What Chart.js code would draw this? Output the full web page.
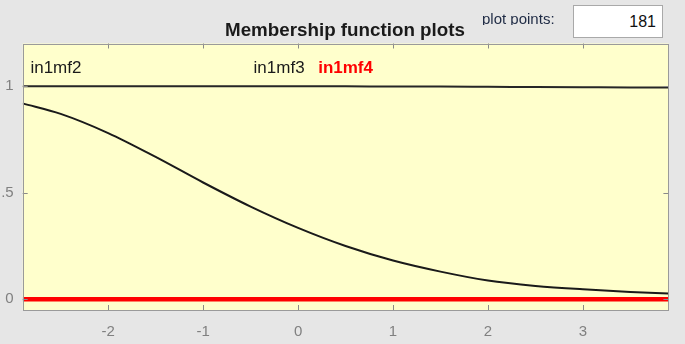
<!DOCTYPE html>
<html><head><meta charset="utf-8">
<script src="https://cdn.jsdelivr.net/npm/chart.js@4.4.1/dist/chart.umd.min.js"></script>
<style>
html,body{margin:0;padding:0;background:#e6e6e6;width:685px;height:344px;overflow:hidden;font-family:"Liberation Sans",Arial,sans-serif}
#wrap{position:relative;width:685px;height:344px}
#c{position:absolute;left:0;top:0}
#title{position:absolute;left:0;top:19px;width:690px;text-align:center;font-size:18.8px;line-height:22px;font-weight:bold;color:#1a1a1a;white-space:nowrap}
#pp{position:absolute;left:482px;top:9px;height:16px;overflow:hidden;font-size:15px;line-height:19px;color:#1e2a44;white-space:nowrap}
#box{position:absolute;left:573px;top:5px;width:90px;height:33px;box-sizing:border-box;background:#fff;border:1px solid #a9a9a9;font-size:16px;line-height:31px;text-align:right;padding-right:6px;color:#111}
</style></head><body>
<div id="wrap">
<canvas id="c" width="685" height="344"></canvas>
<div id="title">Membership function plots</div>
<div id="pp">plot points:</div>
<div id="box">181</div>
</div>
<script>
// ---- data ----
const xs = [-2.9,-2.5,-2,-1.5,-1,-0.5,0,0.5,1,1.5,2,2.5,3,3.5,3.9];
const mfCurve = [0.919,0.87,0.78,0.668,0.548,0.435,0.335,0.25,0.182,0.13,0.088,0.063,0.047,0.035,0.027];
const mfTop = [1,1,1,1,1,1,0.999,0.999,0.998,0.998,0.997,0.996,0.995,0.994,0.994];
const mfZero = [0,0,0,0,0,0,0,0,0,0,0,0,0,0,0];
const xTicks = [-2,-1,0,1,2,3];
const yTicks = [0,0.5,1];
const yTickLabels = ['0','.5','1'];
const mfLabels = ['in1mf2','in1mf3','in1mf4'];
const mfLabelX = [-2.55,-0.2,0.5];
const mfLabelY = 1.09;
const mfLabelColors = ['#1a1a1a','#1a1a1a','#ff0000'];
const mfLabelBold = [false,false,true];

const pts = arr => xs.map((x,i)=>({x:x,y:arr[i]}));

const decor = {
  id:'decor',
  beforeDatasetsDraw(chart){
    const {ctx, chartArea:a} = chart;
    ctx.save();
    ctx.fillStyle='#ffffcc';
    ctx.fillRect(a.left,a.top,a.width,a.height);
    ctx.restore();
  },
  afterDatasetsDraw(chart){
    const {ctx, chartArea:a, scales} = chart;
    ctx.save();
    ctx.strokeStyle='#8a8a8a';
    ctx.lineWidth=1;
    ctx.beginPath();
    xTicks.forEach(v=>{
      const px=Math.round(scales.x.getPixelForValue(v))+0.5;
      ctx.moveTo(px,a.top); ctx.lineTo(px,a.top+5);
      ctx.moveTo(px,a.bottom); ctx.lineTo(px,a.bottom-5);
    });
    yTicks.forEach(v=>{
      const py=Math.round(scales.y.getPixelForValue(v))+0.5;
      ctx.moveTo(a.left,py); ctx.lineTo(a.left+5,py);
      ctx.moveTo(a.right,py); ctx.lineTo(a.right-5,py);
    });
    ctx.stroke();
    ctx.strokeStyle='#9a9a9a';
    ctx.strokeRect(Math.round(a.left)+0.5,Math.round(a.top)+0.5,Math.round(a.width)-1,Math.round(a.height)-1);
    ctx.textAlign='center';
    ctx.textBaseline='alphabetic';
    mfLabels.forEach((t,i)=>{
      ctx.font=(mfLabelBold[i]?'bold ':'')+'17px "Liberation Sans", Arial, sans-serif';
      ctx.fillStyle=mfLabelColors[i];
      ctx.fillText(t, scales.x.getPixelForValue(mfLabelX[i]), scales.y.getPixelForValue(mfLabelY)+6);
    });
    ctx.restore();
  }
};

new Chart(document.getElementById('c'),{
  type:'line',
  data:{datasets:[
    {data:pts(mfTop),borderColor:'#262626',borderWidth:2,pointRadius:0,cubicInterpolationMode:'monotone'},
    {data:pts(mfCurve),borderColor:'#1a1a1a',borderWidth:2,pointRadius:0,cubicInterpolationMode:'monotone'},
    {data:pts(mfZero),borderColor:'#ff0000',borderWidth:4.5,pointRadius:0}
  ]},
  options:{
    responsive:false,animation:false,
    layout:{padding:{left:0,right:16.6,top:43.5,bottom:0}},
    plugins:{legend:{display:false},tooltip:{enabled:false},title:{display:false}},
    scales:{
      x:{type:'linear',min:-2.9,max:3.9,
        grid:{display:false},border:{display:false},
        afterBuildTicks:s=>{s.ticks=xTicks.map(v=>({value:v}));},
        afterFit:s=>{s.height=34;},
        ticks:{color:'#808080',padding:5,font:{family:'"Liberation Sans", Arial, sans-serif',size:15},callback:v=>String(v)}
      },
      y:{type:'linear',min:-0.05,max:1.2,
        grid:{display:false},border:{display:false},
        afterBuildTicks:s=>{s.ticks=yTicks.map(v=>({value:v}));},
        afterFit:s=>{s.width=22.7;},
        ticks:{color:'#808080',padding:1,font:{family:'"Liberation Sans", Arial, sans-serif',size:15},
          callback:v=>yTickLabels[yTicks.indexOf(v)]}
      }
    }
  },
  plugins:[decor]
});
</script>
</body></html>
